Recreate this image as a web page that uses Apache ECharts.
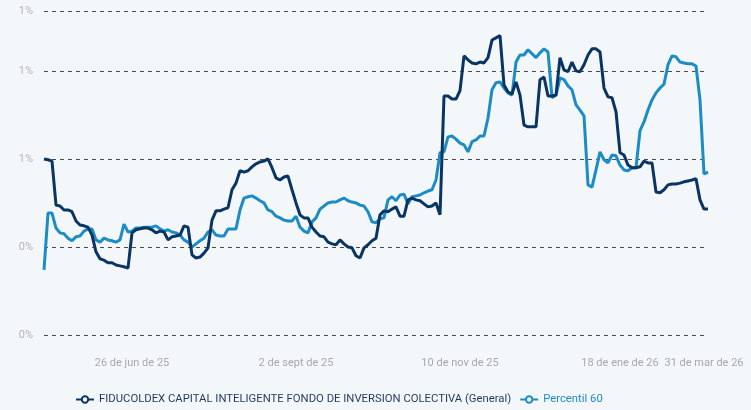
<!DOCTYPE html>
<html>
<head>
<meta charset="utf-8">
<script src="https://cdn.jsdelivr.net/npm/echarts@6/dist/echarts.min.js"></script>
<style>
  html, body { margin: 0; padding: 0; background: #f4f7fa; }
  #chart { width: 751px; height: 410px; }
</style>
</head>
<body>
<div id="chart"></div>
<script>
// series names
const seriesNames = ['FIDUCOLDEX CAPITAL INTELIGENTE FONDO DE INVERSION COLECTIVA (General)', 'Percentil 60'];

// tick labels on the x axis and the category index where each one sits
const tickLabels = ['26 de jun de 25', '2 de sept de 25', '10 de nov de 25', '18 de ene de 26', '31 de mar de 26'];
const tickIndex = [22, 63, 104, 144, 165];

// fund values (%)
const fundValues = [
  0.600, 0.598, 0.595, 0.495, 0.493, 0.484, 0.484, 0.480, 0.459, 0.450,
  0.448, 0.445, 0.427, 0.389, 0.373, 0.370, 0.364, 0.364, 0.359, 0.357,
  0.355, 0.352, 0.432, 0.439, 0.441, 0.443, 0.443, 0.439, 0.432, 0.436,
  0.434, 0.416, 0.423, 0.425, 0.427, 0.448, 0.445, 0.382, 0.375, 0.377,
  0.386, 0.398, 0.461, 0.482, 0.482, 0.486, 0.489, 0.530, 0.545, 0.573,
  0.570, 0.573, 0.582, 0.589, 0.593, 0.595, 0.600, 0.580, 0.557, 0.552,
  0.559, 0.561, 0.530, 0.500, 0.473, 0.466, 0.466, 0.445, 0.434, 0.425,
  0.423, 0.411, 0.407, 0.405, 0.416, 0.407, 0.400, 0.398, 0.380, 0.375,
  0.398, 0.405, 0.414, 0.420, 0.473, 0.482, 0.480, 0.486, 0.491, 0.470,
  0.470, 0.507, 0.511, 0.507, 0.505, 0.498, 0.491, 0.493, 0.500, 0.473,
  0.743, 0.743, 0.736, 0.736, 0.755, 0.834, 0.825, 0.818, 0.816, 0.820,
  0.818, 0.830, 0.870, 0.875, 0.880, 0.768, 0.752, 0.748, 0.775, 0.745,
  0.677, 0.673, 0.673, 0.673, 0.780, 0.786, 0.743, 0.743, 0.745, 0.830,
  0.802, 0.798, 0.820, 0.800, 0.798, 0.814, 0.836, 0.850, 0.850, 0.843,
  0.761, 0.741, 0.739, 0.707, 0.614, 0.609, 0.586, 0.580, 0.580, 0.582,
  0.595, 0.591, 0.591, 0.525, 0.523, 0.530, 0.541, 0.543, 0.543, 0.545,
  0.548, 0.550, 0.552, 0.555, 0.507, 0.486, 0.486
];

// percentile 60 values (%)
const p60Values = [
  0.348, 0.477, 0.477, 0.443, 0.432, 0.430, 0.420, 0.414, 0.423, 0.425,
  0.436, 0.441, 0.441, 0.416, 0.411, 0.420, 0.416, 0.414, 0.411, 0.416,
  0.452, 0.434, 0.436, 0.443, 0.443, 0.445, 0.445, 0.445, 0.448, 0.441,
  0.436, 0.439, 0.434, 0.432, 0.427, 0.416, 0.411, 0.400, 0.407, 0.414,
  0.420, 0.434, 0.439, 0.427, 0.425, 0.425, 0.441, 0.441, 0.441, 0.484,
  0.511, 0.514, 0.516, 0.511, 0.505, 0.500, 0.484, 0.480, 0.470, 0.466,
  0.461, 0.459, 0.459, 0.470, 0.445, 0.436, 0.432, 0.457, 0.466, 0.486,
  0.493, 0.500, 0.502, 0.502, 0.507, 0.511, 0.505, 0.502, 0.500, 0.495,
  0.493, 0.480, 0.457, 0.455, 0.464, 0.466, 0.507, 0.514, 0.505, 0.518,
  0.520, 0.498, 0.514, 0.516, 0.518, 0.523, 0.527, 0.530, 0.552, 0.614,
  0.616, 0.650, 0.652, 0.645, 0.636, 0.632, 0.616, 0.639, 0.643, 0.652,
  0.652, 0.693, 0.757, 0.773, 0.775, 0.761, 0.750, 0.745, 0.820, 0.836,
  0.836, 0.848, 0.839, 0.830, 0.841, 0.850, 0.843, 0.739, 0.745, 0.784,
  0.780, 0.766, 0.757, 0.723, 0.711, 0.698, 0.541, 0.536, 0.575, 0.616,
  0.598, 0.591, 0.609, 0.607, 0.586, 0.575, 0.573, 0.580, 0.580, 0.664,
  0.684, 0.711, 0.734, 0.750, 0.761, 0.770, 0.814, 0.834, 0.832, 0.820,
  0.818, 0.816, 0.816, 0.811, 0.734, 0.566, 0.570
];

const categories = fundValues.map((v, i) => i);
const darkBlue = '#0a3462';
const lightBlue = '#1c8cc6';
const labelFont = 'Roboto, sans-serif';

const chart = echarts.init(document.getElementById('chart'));

const option = {
  backgroundColor: '#f4f7fa',
  animation: false,
  grid: { left: 44, right: 43, top: 11, bottom: 75 },
  legend: {
    bottom: 0,
    left: 70,
    itemWidth: 18,
    itemHeight: 8,
    itemGap: 8,
    textStyle: { fontFamily: labelFont, fontSize: 11.3 },
    data: [
      { name: seriesNames[0], textStyle: { color: '#1d3a5e' } },
      { name: seriesNames[1], textStyle: { color: lightBlue } }
    ]
  },
  xAxis: {
    type: 'category',
    boundaryGap: false,
    data: categories,
    axisLine: { show: false },
    axisTick: { show: false },
    splitLine: { show: false },
    axisLabel: {
      margin: 23,
      color: '#a8a8a8',
      fontFamily: labelFont,
      fontSize: 11,
      hideOverlap: false,
      interval: (idx) => tickIndex.includes(idx),
      formatter: (val, idx) => {
        const k = tickIndex.indexOf(idx);
        return k >= 0 ? tickLabels[k] : '';
      }
    }
  },
  yAxis: {
    type: 'value',
    min: 0.2,
    max: 0.936,
    interval: 0.2,
    axisLine: { show: false },
    axisTick: { show: false },
    axisLabel: {
      margin: 11,
      color: '#b5b5b5',
      fontFamily: labelFont,
      fontSize: 11,
      formatter: (v) => Math.round(v) + '%'
    },
    splitLine: { lineStyle: { color: '#4a4a4a', type: [4, 4], width: 1 } }
  },
  series: [
    {
      name: seriesNames[0],
      type: 'line',
      data: fundValues,
      symbol: 'emptyCircle',
      symbolSize: 7,
      showSymbol: false,
      lineStyle: { color: darkBlue, width: 3 },
      itemStyle: { color: darkBlue, borderWidth: 2 },
      z: 3
    },
    {
      name: seriesNames[1],
      type: 'line',
      data: p60Values,
      symbol: 'emptyCircle',
      symbolSize: 7,
      showSymbol: false,
      lineStyle: { color: lightBlue, width: 3 },
      itemStyle: { color: lightBlue, borderWidth: 2 },
      z: 2
    }
  ]
};

chart.setOption(option);
</script>
</body>
</html>
